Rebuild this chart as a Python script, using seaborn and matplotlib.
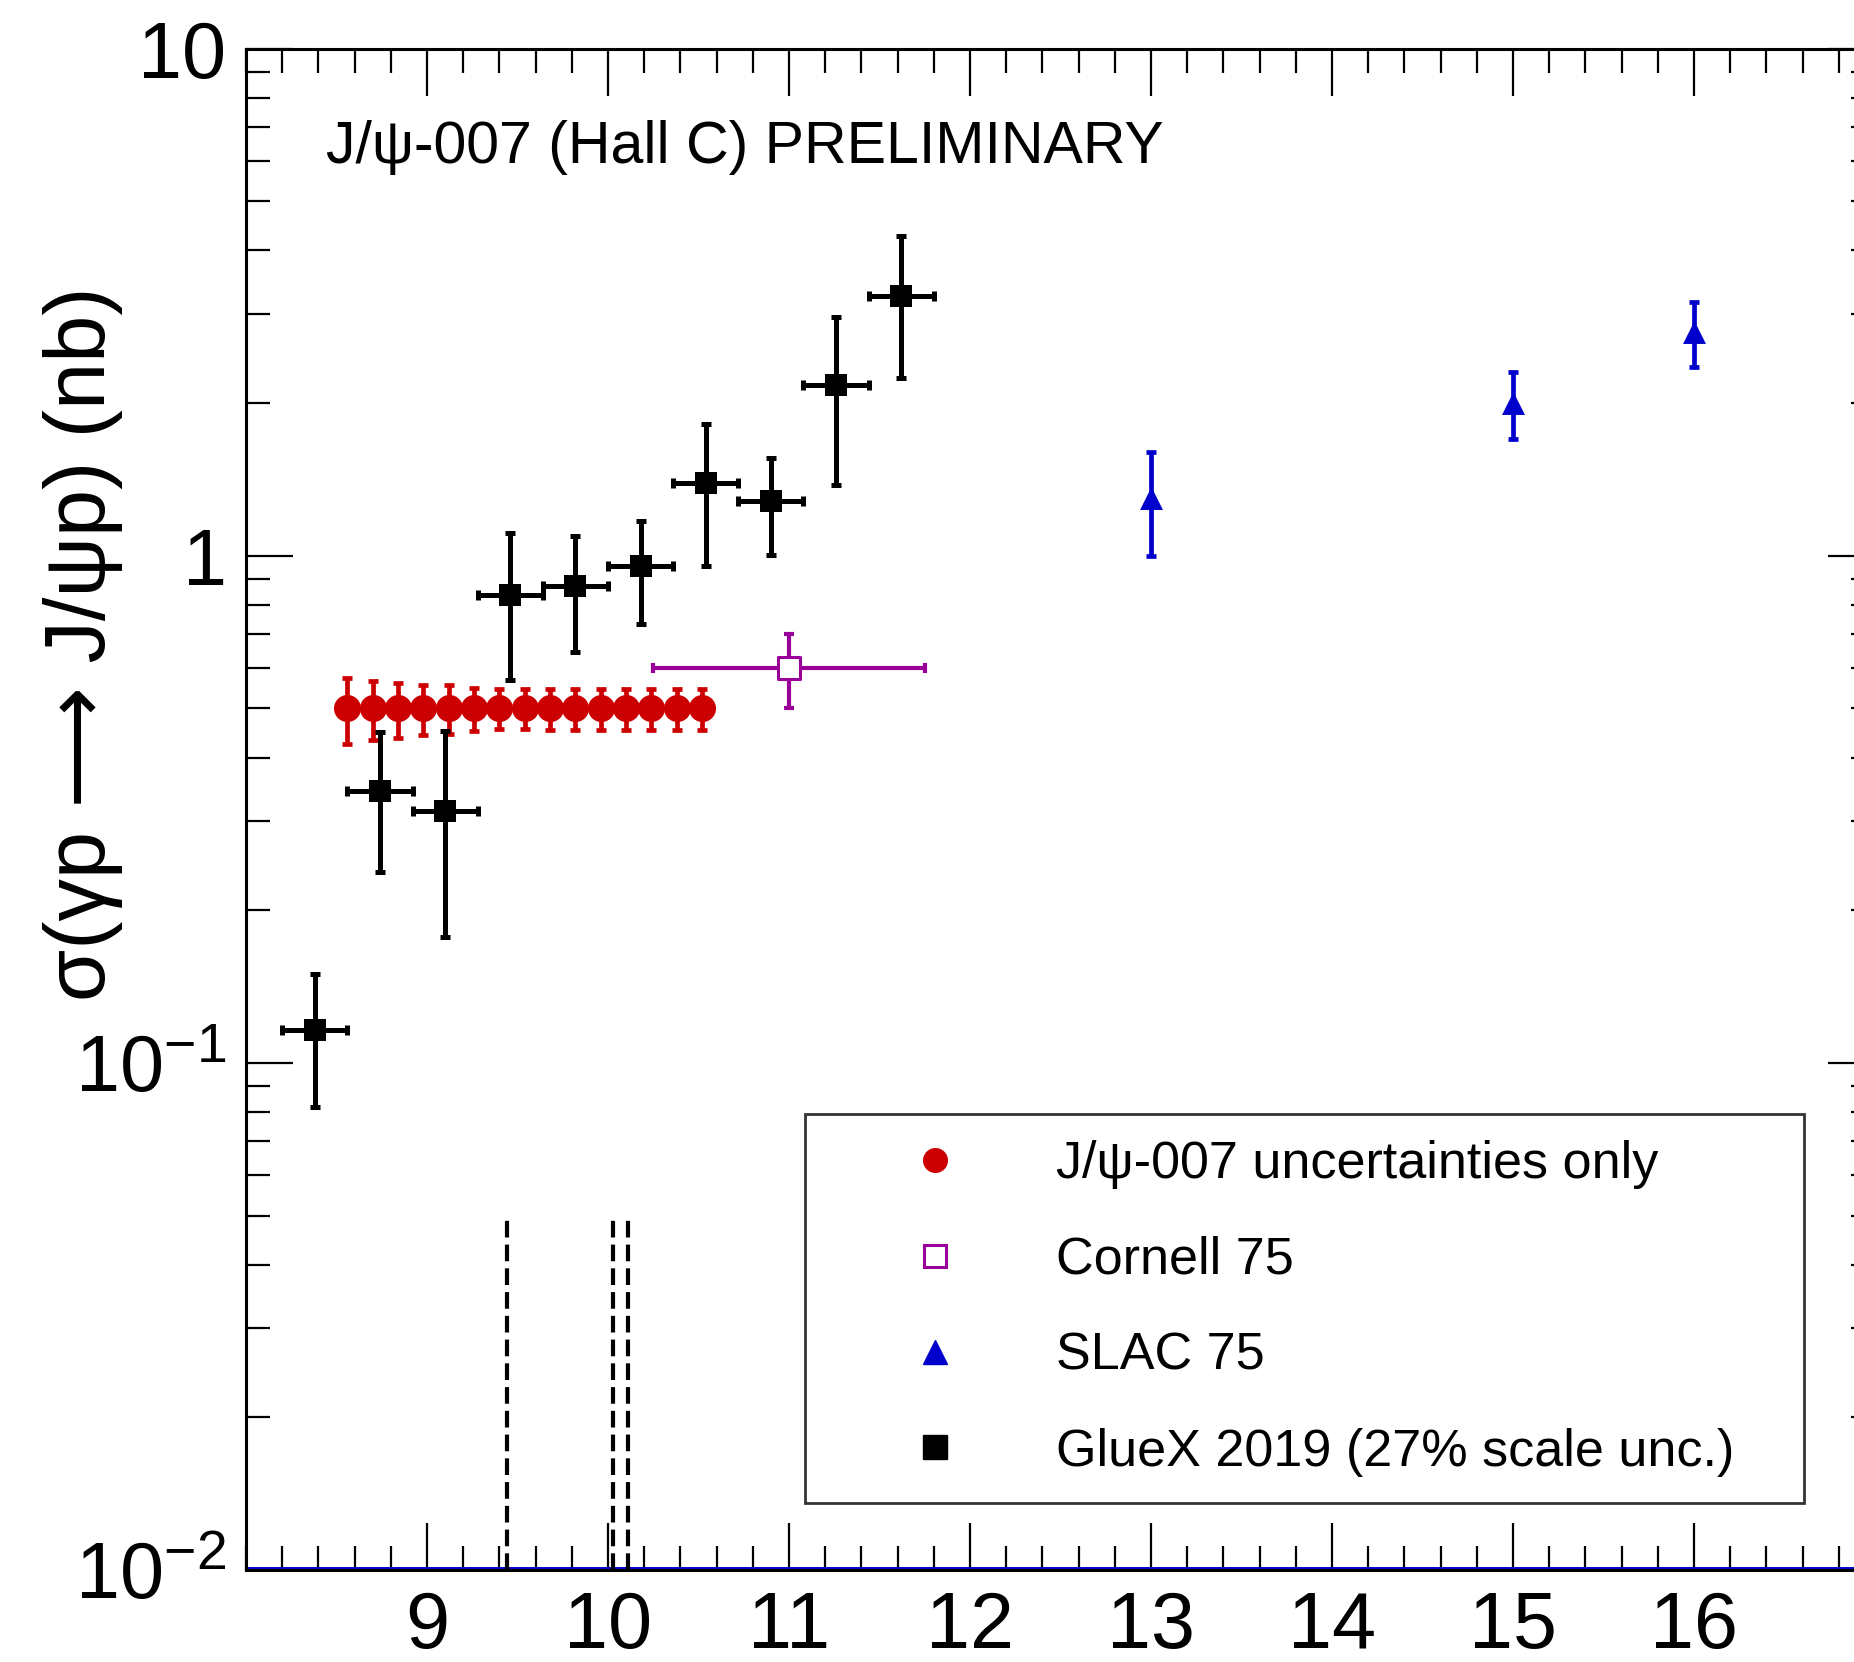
import matplotlib
matplotlib.use('Agg')
import pandas as pd
import matplotlib.pyplot as plt
import seaborn as sns
from matplotlib.lines import Line2D
from matplotlib.ticker import FixedLocator, FixedFormatter, LogLocator, NullFormatter

# data
# J/psi-007 projection (uncertainties only)
jpsi007_e = [8.56, 8.70, 8.84, 8.98, 9.12, 9.26, 9.40, 9.54, 9.68, 9.82, 9.96, 10.10, 10.24, 10.38, 10.52]
jpsi007_sigma = [0.5, 0.5, 0.5, 0.5, 0.5, 0.5, 0.5, 0.5, 0.5, 0.5, 0.5, 0.5, 0.5, 0.5, 0.5]
jpsi007_err = [0.074, 0.066, 0.062, 0.056, 0.055, 0.048, 0.045, 0.045, 0.046, 0.047, 0.047, 0.047, 0.047, 0.047, 0.047]

# GlueX 2019
gluex_e = [8.38, 8.74, 9.10, 9.46, 9.82, 10.18, 10.54, 10.90, 11.26, 11.62]
gluex_ebin = [0.18, 0.18, 0.18, 0.18, 0.18, 0.18, 0.18, 0.18, 0.18, 0.18]
gluex_sigma = [0.116, 0.344, 0.314, 0.838, 0.870, 0.953, 1.388, 1.280, 2.166, 3.257]
gluex_err = [0.034, 0.106, 0.137, 0.270, 0.223, 0.219, 0.433, 0.279, 0.785, 1.018]

# Cornell 75
cornell_e = [11.0]
cornell_ebin = [0.75]
cornell_sigma = [0.60]
cornell_err = [0.10]

# SLAC 75
slac_e = [13.0, 15.0, 16.0]
slac_sigma = [1.30, 2.00, 2.76]
slac_err = [0.30, 0.30, 0.40]

# dashed markers near the bottom
dashed_e = [9.44, 10.03, 10.11]
dashed_top = 0.05

x_major = [9, 10, 11, 12, 13, 14, 15, 16]
x_labels = ['9', '10', '11', '12', '13', '14', '15', '16']
y_major = [0.01, 0.1, 1, 10]
y_labels = ['$10^{-2}$', '$10^{-1}$', '1', '10']

legend_labels = ['J/\u03c8-007 uncertainties only', 'Cornell 75', 'SLAC 75',
                 'GlueX 2019 (27% scale unc.)']

RED = '#cc0000'
PURPLE = '#990099'
BLUE = '#0000cc'
BLACK = 'black'

sns.set_theme(style='ticks')
plt.rcParams['font.family'] = ['Liberation Sans', 'DejaVu Sans']
plt.rcParams['text.color'] = BLACK
plt.rcParams['axes.labelcolor'] = BLACK
plt.rcParams['mathtext.fontset'] = 'custom'
plt.rcParams['mathtext.rm'] = 'Liberation Sans'
plt.rcParams['mathtext.it'] = 'Liberation Sans:italic'
plt.rcParams['mathtext.default'] = 'regular'

fig = plt.figure(figsize=(18.54, 16.62), dpi=100)
ax = fig.add_axes([0.1327, 0.0553, 0.8786, 0.9155])
ax.set_yscale('log')
ax.set_xlim(8, 17)
ax.set_ylim(0.01, 10)

# error bars
eb = dict(fmt='none', elinewidth=3.4, capsize=3.4, capthick=3.4)
ax.errorbar(jpsi007_e, jpsi007_sigma, yerr=jpsi007_err, ecolor=RED, zorder=3, **eb)
ax.errorbar(cornell_e, cornell_sigma, xerr=cornell_ebin, yerr=cornell_err, ecolor=PURPLE,
            zorder=3, fmt='none', elinewidth=3.0, capsize=3.4, capthick=3.0)
ax.errorbar(slac_e, slac_sigma, yerr=slac_err, ecolor=BLUE, zorder=3, **eb)
ax.errorbar(gluex_e, gluex_sigma, xerr=gluex_ebin, yerr=gluex_err, ecolor=BLACK, zorder=3,
            fmt='none', elinewidth=3.6, capsize=3.4, capthick=3.6)

# markers
df_j = pd.DataFrame({'E': jpsi007_e, 'sigma': jpsi007_sigma})
df_g = pd.DataFrame({'E': gluex_e, 'sigma': gluex_sigma})
df_c = pd.DataFrame({'E': cornell_e, 'sigma': cornell_sigma})
df_s = pd.DataFrame({'E': slac_e, 'sigma': slac_sigma})
sns.scatterplot(data=df_j, x='E', y='sigma', marker='o', s=380, color=RED,
                edgecolor=RED, linewidth=0, ax=ax, zorder=4)
sns.scatterplot(data=df_g, x='E', y='sigma', marker='s', s=272, color=BLACK,
                edgecolor=BLACK, linewidth=0, ax=ax, zorder=4)
sns.scatterplot(data=df_c, x='E', y='sigma', marker='s', s=256, facecolor='white',
                edgecolor=PURPLE, linewidth=2.2, ax=ax, zorder=4)
sns.scatterplot(data=df_s, x='E', y='sigma', marker='^', s=272, color=BLUE,
                edgecolor=BLUE, linewidth=0, ax=ax, zorder=4)

ax.vlines(dashed_e, 0.01, dashed_top, colors=BLACK, linewidth=3.0,
          linestyles=(0, (4.0, 1.7)), zorder=2)
ax.axhline(0.01, color=BLUE, linewidth=5, zorder=1)

# axes styling (ROOT-like ticks on all sides, pointing in)
for sp in ax.spines.values():
    sp.set_linewidth(2.2)
    sp.set_color(BLACK)
ax.xaxis.set_major_locator(FixedLocator(x_major))
ax.xaxis.set_major_formatter(FixedFormatter(x_labels))
ax.xaxis.set_minor_locator(FixedLocator([8 + 0.2 * i for i in range(46)]))
ax.yaxis.set_major_locator(FixedLocator(y_major))
ax.yaxis.set_major_formatter(FixedFormatter(y_labels))
ax.yaxis.set_minor_locator(LogLocator(base=10, subs=range(2, 10), numticks=20))
ax.yaxis.set_minor_formatter(NullFormatter())
ax.tick_params(which='both', direction='in', top=True, right=True, colors=BLACK, width=1.6)
ax.tick_params(which='major', length=34)
ax.tick_params(which='minor', length=17)
ax.tick_params(axis='x', which='major', labelsize=57, pad=14)
ax.tick_params(axis='y', which='major', labelsize=57, pad=14)
ax.set_xlabel('')
ax.set_ylabel('')
ax.grid(False)

fig.text(0.045, 0.6125, '\u03c3(\u03b3p \u27f6 J/\u03c8p) (nb)', rotation=90,
         ha='center', va='center', fontsize=61, color=BLACK)
ax.text(0.049, 0.925, 'J/\u03c8-007 (Hall C) PRELIMINARY', transform=ax.transAxes,
        fontsize=42.5, ha='left', va='baseline', color=BLACK)

handles = [
    Line2D([], [], ls='none', marker='o', ms=17, color=RED),
    Line2D([], [], ls='none', marker='s', ms=15.5, mfc='white', mec=PURPLE, mew=2.2),
    Line2D([], [], ls='none', marker='^', ms=17, color=BLUE),
    Line2D([], [], ls='none', marker='s', ms=17, color=BLACK),
]
leg = fig.legend(handles, legend_labels, loc='upper left',
                 bbox_to_anchor=(0.434, 0.101, 0.539, 0.2287), mode='expand',
                 fontsize=37.5, frameon=True, fancybox=False, borderpad=0.5,
                 handlelength=4.0, handletextpad=0.33, labelspacing=0.9,
                 borderaxespad=0)
leg.get_frame().set_edgecolor(BLACK)
leg.get_frame().set_linewidth(2.0)
for t in leg.get_texts():
    t.set_color(BLACK)

fig.savefig('out.png', dpi=100, facecolor='white')
